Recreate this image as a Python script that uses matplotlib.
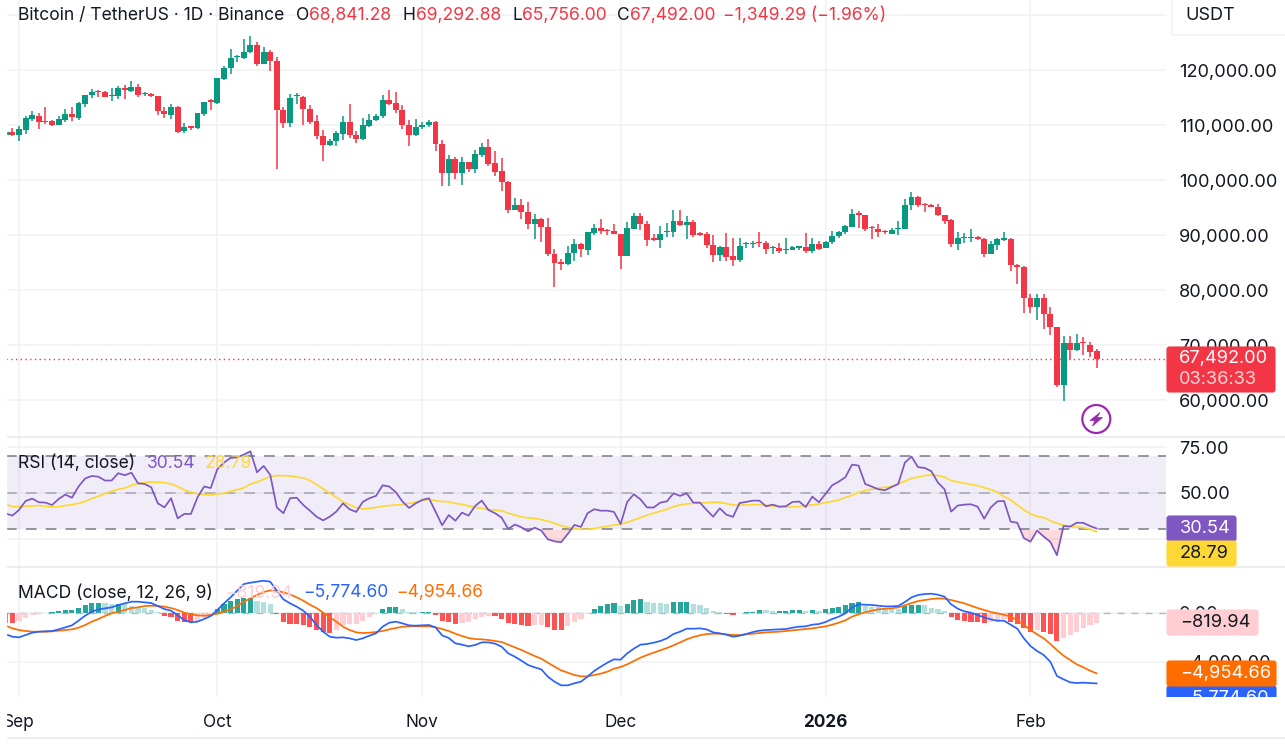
import numpy as np
import pandas as pd
import matplotlib
matplotlib.use('Agg')
import matplotlib.pyplot as plt
from matplotlib.patches import Rectangle, FancyBboxPatch, Circle, Polygon

plt.rcParams['font.family'] = ['Inter', 'DejaVu Sans']

# BTC/USDT daily candles (thousand USD)
start_date = '2025-08-30'
opens = [
    108.2,108.8,108.3,109.2,111.2,111.6,110.8,110.7,110.1,111.0,
    112.1,111.4,113.8,115.5,116.3,116.0,115.3,115.4,116.8,116.3,
    117.0,115.6,115.7,115.3,112.6,111.9,113.3,108.9,109.8,109.5,
    112.1,114.6,114.0,118.5,120.5,122.4,122.3,123.4,124.6,121.2,
    123.3,121.7,112.7,110.5,115.3,115.2,113.0,110.7,108.1,106.4,
    107.1,108.4,110.6,108.3,107.5,109.9,110.9,111.6,114.6,114.1,
    112.8,110.0,108.3,109.7,110.0,110.6,106.6,101.4,103.9,101.3,
    103.3,102.1,104.6,106.0,103.1,101.6,99.7,94.5,95.5,94.2,
    92.1,92.9,91.5,86.5,85.1,84.7,86.8,88.3,87.3,90.4,
    91.3,91.0,90.7,90.3,86.2,91.2,93.4,92.0,89.4,89.2,
    90.5,90.6,92.6,91.9,92.4,90.4,90.2,88.2,86.4,87.8,
    86.2,85.4,88.3,88.4,88.7,88.6,87.7,87.6,87.3,87.3,
    87.7,87.9,87.1,88.4,87.6,88.8,89.9,90.5,91.4,94.0,
    93.7,91.4,91.1,90.8,90.3,91.1,91.2,95.4,96.9,95.7,
    95.5,95.2,93.6,92.7,88.4,89.4,89.4,89.6,89.3,86.5,
    88.2,89.2,89.3,84.5,84.2,78.6,76.9,78.6,75.7,73.2,
    62.7,70.4,69.1,70.5,70.1,68.841]
closes = [
    108.8,108.3,109.3,111.3,111.8,110.6,110.6,110.1,111.1,112.1,
    111.5,114.0,115.5,116.1,116.1,115.2,115.5,116.8,116.5,117.0,
    115.5,115.8,115.3,112.6,112.0,113.3,108.8,109.7,109.5,112.2,
    114.3,114.3,118.6,120.5,122.2,122.6,123.4,124.6,121.2,123.3,
    121.7,112.7,110.5,115.0,115.5,112.9,110.6,108.1,106.4,107.2,
    108.6,110.6,108.3,107.5,110.0,110.9,111.7,114.6,113.9,112.8,
    110.0,108.3,109.7,110.1,110.6,106.5,101.4,103.8,101.3,103.3,
    102.1,104.7,106.0,103.0,101.5,99.7,94.5,95.5,94.2,92.1,
    92.9,91.5,86.5,85.0,84.7,86.8,88.3,87.4,90.5,91.3,
    90.8,90.8,90.3,86.2,91.3,93.4,92.0,89.2,89.1,90.3,
    90.7,92.6,91.8,92.4,90.1,90.0,88.2,86.4,87.8,86.1,
    85.4,88.0,88.5,88.6,88.5,87.5,87.9,87.1,87.5,87.9,
    88.0,87.1,88.4,87.5,88.8,89.9,90.6,91.6,93.8,93.7,
    91.1,91.3,90.5,90.5,91.0,91.3,95.4,96.9,95.4,95.5,
    95.2,93.6,92.5,88.4,89.4,89.6,89.6,89.3,86.5,88.3,
    89.3,89.4,84.5,84.2,78.6,76.9,78.6,75.7,73.2,62.7,
    70.4,69.1,70.3,70.3,68.7,67.492]
highs = [
    109.0,109.5,109.9,111.6,112.6,112.2,113.4,111.0,111.6,112.9,
    113.3,114.3,115.5,116.6,116.4,116.3,116.8,117.1,117.4,118.0,
    117.5,116.1,115.8,115.4,113.3,113.9,113.5,110.4,109.9,112.3,
    114.3,114.8,118.6,120.8,123.9,122.8,125.7,126.2,125.1,124.2,
    123.7,122.5,113.3,115.7,115.8,115.4,113.7,111.9,109.2,107.5,
    109.0,111.6,113.9,109.0,111.3,112.1,112.0,115.5,116.4,116.1,
    113.7,110.9,111.1,110.6,111.0,110.8,107.3,104.6,104.2,104.2,
    103.3,105.5,106.7,107.5,105.3,104.1,99.8,96.8,96.6,96.0,
    93.9,93.1,93.1,87.5,85.6,88.0,89.3,88.5,90.6,92.0,
    93.0,91.2,92.0,90.3,92.4,94.0,94.1,92.5,90.2,91.7,
    92.2,94.6,94.6,93.5,92.8,90.6,90.5,90.1,88.0,90.4,
    89.4,89.4,88.7,89.0,90.6,88.9,88.0,88.6,89.5,88.0,
    88.0,90.4,89.4,89.0,88.9,90.8,90.7,91.9,94.8,94.4,
    93.7,91.7,92.0,91.0,91.3,92.5,96.5,97.8,97.1,95.8,
    95.6,95.6,93.6,92.9,90.6,90.4,91.1,89.9,89.4,88.9,
    89.4,90.6,89.4,84.7,84.3,79.2,79.3,79.2,76.9,73.2,
    71.6,71.6,72.1,71.4,70.5,69.293]
lows = [
    107.5,108.1,107.2,108.4,110.7,109.4,110.3,109.9,110.0,110.6,
    110.7,110.9,113.4,114.9,115.1,115.1,114.4,114.7,114.7,116.1,
    115.2,115.4,115.2,111.8,111.4,111.2,108.6,108.6,109.2,109.3,
    111.6,112.7,113.9,118.3,119.4,121.5,122.0,123.1,120.7,121.1,
    119.8,102.1,109.5,109.7,113.8,110.0,110.3,107.5,103.5,106.2,
    106.2,107.4,107.6,106.7,107.3,109.7,110.7,111.3,113.7,112.3,
    109.3,106.3,108.1,109.4,109.7,105.4,99.0,99.0,100.3,99.2,
    101.5,101.4,104.3,102.5,100.8,98.0,94.0,94.5,93.0,91.2,
    89.3,88.7,86.2,80.6,83.6,84.5,85.3,86.1,86.3,90.1,
    90.2,90.1,90.2,83.8,86.2,91.1,91.0,88.0,88.9,87.7,
    89.6,89.6,91.6,89.3,89.6,89.9,87.6,85.1,85.3,85.3,
    84.4,85.1,87.7,87.6,87.9,86.6,86.5,86.8,86.6,87.3,
    87.3,86.7,86.8,87.3,87.6,88.3,89.4,90.3,91.4,91.3,
    90.7,89.3,89.7,90.3,90.2,90.1,91.1,94.6,95.2,94.3,
    95.1,93.5,92.0,87.9,87.3,88.5,88.7,89.1,86.1,86.5,
    87.3,88.9,83.4,81.1,75.8,75.8,74.6,73.0,71.9,62.3,
    59.9,67.4,69.0,68.2,67.8,65.756]

rsi = [
    38.7,37.6,40.7,45.6,46.9,44.9,44.7,43.4,46.7,49.1,
    47.4,53.5,57.9,59.3,58.9,56.8,56.8,60.8,59.7,61.1,
    55.3,54.9,53.1,44.3,42.1,47.1,36.1,38.5,38.5,47.6,
    53.5,52.7,63.0,66.6,69.2,69.5,71.0,72.8,61.3,64.8,
    59.9,42.0,38.9,47.1,47.4,43.4,40.3,37.0,35.0,37.0,
    39.8,44.3,41.1,39.6,45.1,47.1,48.4,54.2,53.5,50.4,
    45.3,41.8,44.3,46.2,47.1,39.8,32.3,37.9,34.8,39.2,
    37.6,42.9,45.8,40.7,38.9,36.5,30.3,32.7,31.2,29.0,
    31.0,29.4,24.6,23.5,23.0,27.5,32.5,31.4,38.9,41.1,
    40.3,40.3,39.6,33.0,45.1,49.3,46.5,42.1,42.0,44.7,
    45.4,49.8,48.4,49.8,44.7,44.7,40.7,37.0,41.6,38.1,
    36.9,44.5,45.1,45.8,45.8,42.7,43.6,42.5,42.7,45.1,
    45.3,42.3,48.0,44.9,49.5,54.2,56.2,58.6,65.5,65.0,
    54.9,53.5,52.0,51.5,53.3,54.9,66.6,69.9,64.1,63.7,
    61.9,55.7,52.0,39.8,43.1,43.6,43.8,42.5,35.9,42.1,
    45.4,45.6,34.3,33.7,25.3,23.3,29.4,26.1,23.2,15.9,
    31.9,31.6,33.7,33.6,31.9,30.54]
rsi_ma = [
    43.8,42.5,42.5,42.7,42.9,43.1,42.7,42.3,42.5,43.1,
    43.6,44.3,45.4,46.9,48.2,49.6,50.9,52.0,52.7,54.2,
    55.1,55.7,56.0,55.8,55.7,54.9,53.5,51.6,50.4,49.6,
    49.1,48.9,49.5,49.8,50.9,51.8,52.7,54.9,56.0,57.5,
    58.9,59.5,59.5,59.3,58.8,58.2,56.8,54.6,52.2,49.8,
    47.6,45.1,43.6,42.0,41.2,41.6,42.1,42.7,43.1,43.4,
    43.6,44.3,44.9,45.8,46.5,45.8,45.3,45.1,44.3,43.8,
    42.9,42.0,41.6,40.9,40.7,40.3,38.9,37.9,36.9,36.3,
    36.1,35.4,34.5,33.4,32.1,31.2,30.5,30.1,30.1,30.5,
    31.2,31.7,32.5,32.8,33.9,35.2,36.5,37.8,39.0,40.0,
    41.1,42.5,43.4,44.0,44.3,44.5,44.7,44.9,44.9,44.2,
    43.4,43.4,43.4,43.6,43.6,43.2,42.9,42.3,42.3,42.3,
    42.5,43.1,43.4,44.0,44.7,45.4,46.2,47.6,48.7,50.4,
    51.3,52.0,52.6,53.1,53.5,54.9,56.4,58.0,58.8,59.5,
    59.9,59.5,58.6,56.8,56.0,55.3,54.7,54.0,52.9,51.8,
    50.4,48.0,46.2,43.4,40.7,38.5,37.2,36.5,34.7,33.4,
    32.3,31.6,31.4,31.0,30.1,28.79]

macd_hist = [
    -816,-816,-680,-462,-190,-136,-54,80,110,218,
    218,408,653,789,789,762,680,734,680,544,
    408,354,218,80,-272,-326,-653,-734,-789,-653,
    -462,-190,272,680,952,1088,1170,1224,979,898,
    680,-109,-789,-898,-898,-1006,-1142,-1414,-1578,-1632,
    -1414,-1006,-925,-920,-653,-326,-109,299,462,462,
    299,80,54,54,54,-218,-653,-789,-898,-870,
    -789,-544,-326,-272,-272,-490,-843,-898,-1006,-1060,
    -1006,-1000,-1197,-1387,-1390,-1100,-762,-544,-136,299,
    544,734,789,544,734,1006,1088,898,789,785,
    707,843,843,898,707,626,381,109,27,-109,
    -218,-54,27,82,218,190,136,163,163,190,
    218,163,218,163,272,408,490,598,789,870,
    571,490,435,320,300,272,544,598,598,590,
    354,272,109,-326,-598,-653,-734,-734,-843,-789,
    -734,-544,-762,-952,-1278,-1550,-1414,-1605,-1741,-2339,
    -2094,-1822,-1578,-1278,-1006,-820]
macd_line = [
    -1768,-1958,-2013,-1822,-1632,-1550,-1523,-1496,-1360,-1197,
    -1034,-653,-245,82,272,354,435,626,762,898,
    898,843,789,544,299,163,-218,-598,-789,-734,
    -517,-272,218,762,1251,1795,2339,2448,2530,2611,
    2530,1795,1088,762,490,163,-326,-1006,-1550,-1958,
    -2040,-2013,-2094,-2230,-2094,-1877,-1686,-1142,-816,-734,
    -870,-1034,-1060,-1034,-1006,-1197,-1850,-2067,-2502,-2611,
    -2747,-2638,-2421,-2421,-2530,-2774,-3318,-3590,-3917,-4270,
    -4461,-4624,-5222,-5630,-5930,-5930,-5766,-5630,-5222,-4760,
    -4406,-4080,-3808,-3835,-3318,-2938,-2611,-2557,-2448,-2312,
    -2094,-1741,-1550,-1306,-1306,-1278,-1360,-1605,-1686,-1795,
    -1958,-1877,-1741,-1578,-1469,-1414,-1387,-1360,-1333,-1224,
    -1142,-1115,-979,-925,-762,-517,-326,-54,435,680,
    653,626,571,517,517,544,870,1251,1442,1523,
    1550,1469,1306,680,326,109,0,-190,-381,-544,
    -653,-653,-979,-1306,-2094,-2720,-3128,-3454,-4000,-5168,
    -5440,-5685,-5739,-5712,-5739,-5775]
macd_signal = [
    -1061,-1278,-1414,-1496,-1550,-1550,-1550,-1523,-1469,-1414,
    -1360,-1224,-1006,-734,-517,-272,-54,82,218,381,
    435,544,571,544,490,381,218,0,-136,-218,
    -245,-190,-82,82,272,544,898,1170,1442,1686,
    1822,1795,1659,1496,1251,979,653,381,0,-381,
    -734,-1142,-1414,-1605,-1659,-1632,-1578,-1496,-1360,-1251,
    -1142,-1115,-1115,-1115,-1115,-1197,-1333,-1496,-1714,-1904,
    -2067,-2149,-2176,-2230,-2312,-2394,-2611,-2829,-3046,-3291,
    -3536,-3754,-4080,-4406,-4706,-4896,-5086,-5195,-5195,-5086,
    -4978,-4814,-4570,-4434,-4216,-3944,-3672,-3454,-3264,-3074,
    -2883,-2666,-2421,-2176,-1986,-1850,-1741,-1714,-1714,-1768,
    -1822,-1822,-1768,-1714,-1659,-1605,-1578,-1550,-1496,-1442,
    -1387,-1333,-1278,-1197,-1115,-979,-816,-626,-326,-136,
    27,163,272,326,354,435,598,789,952,1034,
    1115,1170,1142,1034,898,762,571,381,218,54,
    -54,-163,-326,-598,-1006,-1414,-1768,-2094,-2557,-3046,
    -3509,-3862,-4216,-4461,-4733,-4955]

price_ticks = [60000, 70000, 80000, 90000, 100000, 110000, 120000, 130000]
rsi_ticks = [25, 50, 75]
macd_ticks = [-4000, 0]
month_labels = ['Sep', 'Oct', 'Nov', 'Dec', '2026', 'Feb']

GREEN = '#089981'
RED = '#f23645'
INK = '#131722'
GRID = '#f1f2f4'
W, H = 1285, 744


def pane(top, bottom):
    # axes from pixel rows, same x range for all panes
    ax = fig.add_axes([6 / W, 1 - bottom / H, 1160 / W, (bottom - top) / H])
    ax.set_xlim(0.03, 175.5)
    ax.set_facecolor('white')
    for s in ax.spines.values():
        s.set_visible(False)
    ax.set_axisbelow(True)
    ax.yaxis.tick_right()
    ax.tick_params(axis='y', length=0, pad=9.5, labelsize=13.1, labelcolor=INK)
    ax.tick_params(axis='x', length=0, labelbottom=False)
    ax.grid(True, color=GRID, lw=1.15)
    return ax


fig = plt.figure(figsize=(W / 100, H / 100), dpi=100, facecolor='white')

dates = pd.date_range(start_date, periods=len(closes))
x = np.arange(len(closes))
month_pos = x[dates.day == 1]

o, c = np.array(opens) * 1000, np.array(closes) * 1000
h, l = np.array(highs) * 1000, np.array(lows) * 1000
up = c >= o
candle_col = np.where(up, GREEN, RED)

# price pane
ax1 = pane(0, 437)
ax1.set_ylim(53267, 132793)
ax1.set_xticks(month_pos)
ax1.set_yticks(price_ticks)
ax1.set_yticklabels([f'{v:,.2f}' for v in price_ticks])
ax1.vlines(x, l, h, colors=candle_col, lw=1.1, zorder=3)
ax1.bar(x, np.maximum(np.abs(c - o), 60), bottom=np.minimum(o, c), width=0.9, color=candle_col, zorder=4)
ax1.axhline(closes[-1] * 1000, color=RED, lw=1, ls=(0, (1, 2.4)), zorder=2)

# rsi pane
ax2 = pane(437, 567)
ax2.set_ylim(9.45, 80.64)
ax2.set_xticks(month_pos)
ax2.set_yticks(rsi_ticks)
ax2.set_yticklabels([f'{v:.2f}' for v in rsi_ticks])
ax2.axhspan(30, 70, color='#7e57c2', alpha=0.1, lw=0, zorder=1)
for lev, a in [(70, 1), (50, 0.6), (30, 1)]:
    ax2.axhline(lev, color='#787b86', lw=1.1, ls=(0, (7, 6)), alpha=a, zorder=2)
r = np.array(rsi)
ax2.fill_between(x, r, 30, where=r < 30, interpolate=True, color=RED, alpha=0.18, lw=0, zorder=2)
ax2.fill_between(x, r, 70, where=r > 70, interpolate=True, color=GREEN, alpha=0.18, lw=0, zorder=2)
ax2.plot(x, rsi_ma, color='#fdd835', lw=1.25, zorder=3)
ax2.plot(x, rsi, color='#7e57c2', lw=1.25, zorder=4)

# macd pane
ax3 = pane(567, 697)
ax3.set_ylim(-6882, 3730)
ax3.set_xticks(month_pos)
ax3.set_yticks(macd_ticks)
ax3.set_yticklabels(['\u22124,000.00', '0.00'])
hist = np.array(macd_hist)
prev = np.r_[hist[0], hist[:-1]]
hist_col = []
for v, p in zip(hist, prev):
    if v >= 0:
        hist_col.append('#26a69a' if v >= p else '#b2dfdb')
    else:
        hist_col.append('#ff5252' if v <= p else '#ffcdd2')
ax3.axhline(0, color='#787b86', lw=1, ls=(0, (5, 5)), alpha=0.5, zorder=1)
ax3.bar(x, hist, width=0.78, color=hist_col, zorder=2)
ax3.plot(x, macd_signal, color='#ff6d00', lw=1.25, zorder=3)
ax3.plot(x, macd_line, color='#2962ff', lw=1.25, zorder=4)
ax3.tick_params(axis='x', labelbottom=True, labelsize=12.4, labelcolor=INK, pad=12)
ax3.set_xticklabels(month_labels)
ax3.get_xticklabels()[4].set_fontweight('bold')

# overlay in pixel coordinates for legends, value boxes and separators
ov = fig.add_axes([0, 0, 1, 1], zorder=5)
ov.set_xlim(0, W)
ov.set_ylim(H, 0)
ov.axis('off')
ov.patch.set_alpha(0)

ov.add_patch(Rectangle((0, 0), 5.5, H, color='white', zorder=5))
for y, x0 in [(437, 6), (567, 6), (738, 6)]:
    ov.plot([x0, W], [y, y], color='#e9ebee', lw=1.3, zorder=1)


def txt(px, py, s, color=INK, size=12.6, **kw):
    return ov.text(px, py, s, color=color, fontsize=size, va='center', ha='left', zorder=9, **kw)


def box(x0, y0, x1, y1, color, edge=None):
    p = FancyBboxPatch((x0, y0), x1 - x0, y1 - y0, boxstyle='round,pad=0,rounding_size=2.5',
                       fc=color, ec=edge if edge else color, lw=0.8, zorder=6, mutation_aspect=1)
    ov.add_patch(p)
    return p


# header
txt(18, 15.5, 'Bitcoin / TetherUS \u00b7 1D \u00b7 Binance')
for lab, lx, val, vx in [('O', 296, '68,841.28', 309.5), ('H', 403, '69,292.88', 416),
                         ('L', 513, '65,756.00', 522), ('C', 617, '67,492.00', 630)]:
    txt(lx, 15.5, lab)
    txt(vx, 15.5, val, RED)
txt(723, 15.5, '\u22121,349.29 (\u22121.96%)', RED)

# USDT box
box(1172, -8, 1288, 35, 'white', '#eceef1')
txt(1185, 16, 'USDT', size=13)

# last price box
box(1167, 347, 1275, 392, RED)
txt(1179, 359, '67,492.00', 'white', 13.1)
txt(1179, 379, '03:36:33', '#fbd3d7', 13.1)

# rsi legend and boxes
txt(18, 463, 'RSI (14, close)')
txt(147, 463, '30.54', '#7e57c2')
txt(205, 463, '28.79', '#fdd835')
box(1167, 516, 1236, 541, '#7e57c2')
box(1167, 541, 1236, 566, '#fdd835')
txt(1180, 528.5, '30.54', 'white', 13.1)
txt(1180, 553.5, '28.79', INK, 13.1)

# macd legend and boxes
txt(18, 593, 'MACD (close, 12, 26, 9)')
txt(225, 593, '\u2212819.94', '#ffcdd2')
txt(303, 593, '\u22125,774.60', '#2962ff')
txt(396, 593, '\u22124,954.66', '#ff6d00')
box(1167, 610, 1258, 635, '#ffcdd2')
txt(1180, 622.5, '\u2212819.94', INK, 13.1)
blue_box = box(1167, 686, 1276, 712, '#2962ff')
blue_txt = txt(1180, 699, '\u22125,774.60', 'white', 13.1)
clip = Rectangle((1160, 680), 125, 17, transform=ov.transData)
blue_box.set_clip_path(clip)
blue_txt.set_clip_path(clip)
box(1167, 661, 1276, 686, '#ff6d00')
txt(1180, 673.5, '\u22124,954.66', 'white', 13.1)

# lightning badge
ov.add_patch(Circle((1096.3, 419), 14, fc='white', ec='#9c27b0', lw=1.6, zorder=6))
ov.add_patch(Polygon([(1100, 412.5), (1090, 420.5), (1095, 420.5), (1092.5, 426),
                      (1102.5, 417.5), (1097, 417.5)], closed=True, fc='#9c27b0', ec='#9c27b0', lw=0.5, zorder=7))

fig.savefig('out.png', dpi=100)
